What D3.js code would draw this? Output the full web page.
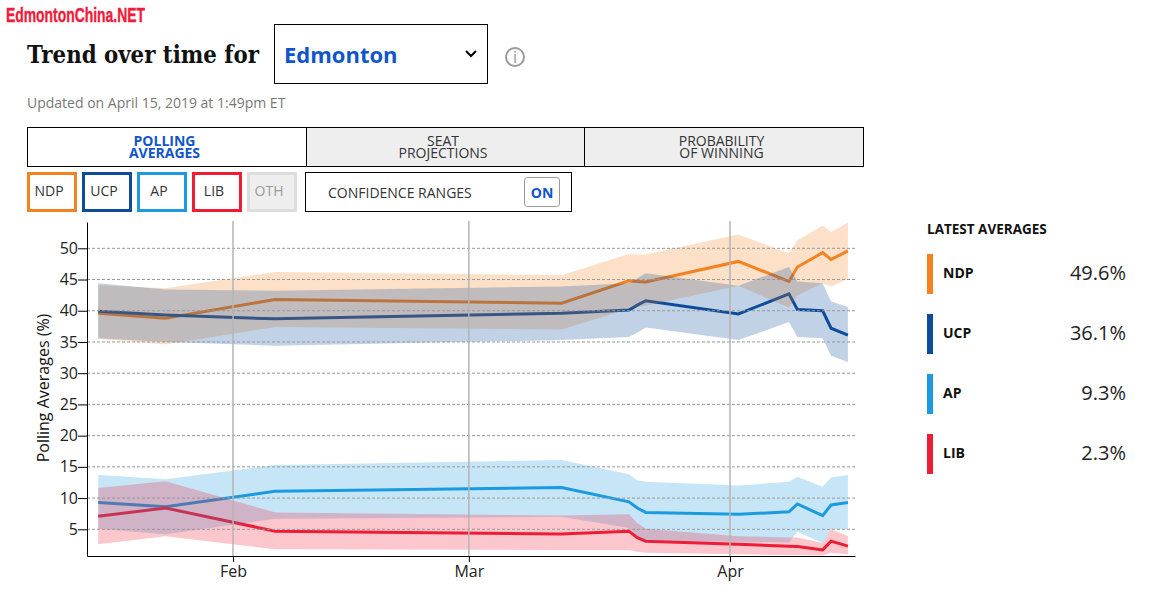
<!DOCTYPE html>
<html>
<head>
<meta charset="utf-8">
<script src="https://d3js.org/d3.v7.min.js"></script>
<style>
    body { margin: 0; background: #fff; }
    svg { display: block; font-family: "Open Sans", sans-serif; }
    .y-axis .domain, .y-axis .tick line, .x-axis .domain { stroke: #000; }
    .tick text { font-family: "Open Sans", sans-serif; font-size: 16px; fill: #222; }
</style>
</head>
<body>
<div id="chart"></div>
<script>
// Values
const dates = ["2019-01-16", "2019-01-24", "2019-02-06", "2019-03-12", "2019-03-20", "2019-03-21", "2019-03-22",
    "2019-04-02", "2019-04-08", "2019-04-09", "2019-04-12", "2019-04-13", "2019-04-15"];

const ndp     = [39.6, 38.8, 41.8, 41.2, 44.8, 44.7, 44.6, 47.9, 44.7, 47.0, 49.3, 48.2, 49.6];
const ndpHigh = [44.1, 43.6, 46.2, 45.7, 49.1, 49.0, 49.0, 52.2, 49.2, 51.3, 53.6, 52.6, 54.1];
const ndpLow  = [35.5, 34.6, 37.4, 37.0, 40.3, 40.6, 40.8, 44.0, 40.5, 42.5, 44.4, 43.9, 45.1];

const ucp     = [39.9, 39.3, 38.7, 39.6, 40.1, 40.9, 41.6, 39.5, 42.7, 40.2, 40.0, 37.2, 36.1];
const ucpHigh = [44.4, 43.4, 43.2, 43.9, 44.4, 45.2, 46.0, 44.0, 47.0, 44.7, 44.4, 41.5, 40.6];
const ucpLow  = [35.6, 35.0, 34.4, 35.3, 35.8, 36.5, 37.3, 35.3, 38.2, 35.8, 35.6, 32.8, 31.8];

const ap     = [9.3, 8.6, 11.1, 11.7, 9.4, 8.4, 7.7, 7.4, 7.8, 9.05, 7.2, 8.9, 9.3];
const apHigh = [13.7, 13.0, 15.3, 16.1, 13.8, 12.8, 12.6, 12.0, 12.6, 13.4, 11.8, 13.3, 13.7];
const apLow  = [5.1, 4.2, 6.7, 7.0, 5.2, 3.8, 3.2, 3.0, 2.9, 4.6, 2.8, 5.0, 5.0];

const lib     = [7.1, 8.4, 4.7, 4.25, 4.7, 3.65, 3.1, 2.6, 2.3, 2.25, 1.7, 3.1, 2.3];
const libHigh = [11.6, 12.7, 7.7, 7.2, 7.4, 6.0, 5.1, 3.9, 3.7, 3.7, 2.8, 5.0, 3.9];
const libLow  = [2.6, 3.9, 1.8, 1.7, 1.7, 1.4, 1.25, 1.0, 0.85, 0.85, 0.8, 1.25, 1.0];

const yTicks = [5, 10, 15, 20, 25, 30, 35, 40, 45, 50];
const monthTicks = ["2019-02-01", "2019-03-01", "2019-04-01"];

const parties = ["NDP", "UCP", "AP", "LIB"];
const partyColors = ["#f58220", "#0d4c9b", "#1b9ae0", "#ee1c35"];
const latest = ["49.6%", "36.1%", "9.3%", "2.3%"];

const parseDate = d3.utcParse("%Y-%m-%d");
const series = [
    { mid: ndp, high: ndpHigh, low: ndpLow },
    { mid: ucp, high: ucpHigh, low: ucpLow },
    { mid: ap, high: apHigh, low: apLow },
    { mid: lib, high: libHigh, low: libLow }
];

const svg = d3.select("#chart").append("svg")
    .attr("width", 1175)
    .attr("height", 603);

const blue = "#1155cc";

// Header
svg.append("text")
    .attr("x", 6).attr("y", 22)
    .attr("textLength", 139).attr("lengthAdjust", "spacingAndGlyphs")
    .style("font-family", "'Liberation Sans Narrow', 'Liberation Sans'")
    .style("font-weight", "bold").style("font-size", "21px").style("fill", "#ee1c3c")
    .style("stroke", "#ee1c3c").style("stroke-width", 0.4)
    .text("EdmontonChina.NET");

svg.append("text")
    .attr("x", 27).attr("y", 63)
    .attr("textLength", 232).attr("lengthAdjust", "spacingAndGlyphs")
    .style("font-family", "'DejaVu Serif', serif")
    .style("font-weight", "bold").style("font-size", "24px").style("fill", "#111")
    .text("Trend over time for");

svg.append("rect")
    .attr("x", 274.5).attr("y", 24.5).attr("width", 213).attr("height", 59)
    .attr("fill", "#fff").attr("stroke", "#000");

svg.append("text")
    .attr("x", 284).attr("y", 63)
    .style("font-weight", 700).style("font-size", "22px").style("fill", blue)
    .text("Edmonton");

svg.append("path")
    .attr("d", "M466,51 L471,56 L476,51")
    .attr("fill", "none").attr("stroke", "#000").attr("stroke-width", 2);

svg.append("circle")
    .attr("cx", 515).attr("cy", 57).attr("r", 9)
    .attr("fill", "none").attr("stroke", "#999").attr("stroke-width", 2);

svg.append("text")
    .attr("x", 515).attr("y", 63).attr("text-anchor", "middle")
    .style("font-size", "16px").style("fill", "#999")
    .text("i");

svg.append("text")
    .attr("x", 27).attr("y", 108)
    .style("font-size", "14px").style("fill", "#777")
    .text("Updated on April 15, 2019 at 1:49pm ET");

// Tabs
const tabs = [
    { x: 27, w: 279, lines: ["POLLING", "AVERAGES"], on: true },
    { x: 306, w: 278, lines: ["SEAT", "PROJECTIONS"], on: false },
    { x: 584, w: 279, lines: ["PROBABILITY", "OF WINNING"], on: false }
];

tabs.forEach(t => {
    svg.append("rect")
        .attr("x", t.x + 0.5).attr("y", 127.5).attr("width", t.w).attr("height", 39)
        .attr("fill", t.on ? "#fff" : "#eee").attr("stroke", "#000");
    t.lines.forEach((line, i) => {
        svg.append("text")
            .attr("x", t.x + t.w / 2 - 2).attr("y", 146 + i * 12).attr("text-anchor", "middle")
            .style("font-size", "14px")
            .style("font-weight", t.on ? 700 : 400)
            .style("fill", t.on ? blue : "#333")
            .text(line);
    });
});

// Party toggles
parties.concat(["OTH"]).forEach((name, i) => {
    const isOther = name === "OTH";
    svg.append("rect")
        .attr("x", 28.5 + i * 55).attr("y", 173.5).attr("width", 47).attr("height", 37)
        .attr("fill", isOther ? "#eee" : "#fff")
        .attr("stroke", isOther ? "#ddd" : partyColors[i])
        .attr("stroke-width", 3);
    svg.append("text")
        .attr("x", 49 + i * 55).attr("y", 196).attr("text-anchor", "middle")
        .style("font-size", "14px")
        .style("fill", isOther ? "#999" : "#333")
        .text(name);
});

svg.append("rect")
    .attr("x", 305.5).attr("y", 172.5).attr("width", 266).attr("height", 39)
    .attr("fill", "#fff").attr("stroke", "#000");

svg.append("text")
    .attr("x", 328).attr("y", 198)
    .style("font-size", "14px").style("fill", "#333")
    .text("CONFIDENCE RANGES");

svg.append("rect")
    .attr("x", 524.5).attr("y", 177.5).attr("width", 35).attr("height", 29).attr("rx", 3)
    .attr("fill", "#fff").attr("stroke", "#999");

svg.append("text")
    .attr("x", 542).attr("y", 198).attr("text-anchor", "middle")
    .style("font-size", "14px").style("font-weight", 700).style("fill", blue)
    .text("ON");

// Scales
const plotLeft = 87, plotRight = 855, plotTop = 222, plotBottom = 556;

const x = d3.scaleUtc()
    .domain([parseDate(monthTicks[0]), parseDate(monthTicks[2])])
    .range([233, 730]);
x.domain([x.invert(plotLeft), x.invert(plotRight)]).range([plotLeft, plotRight]);

const yRef = d3.scaleLinear().domain([5, 50]).range([529.3, 248.3]);
const y = d3.scaleLinear()
    .domain([yRef.invert(plotBottom), yRef.invert(plotTop)])
    .range([plotBottom, plotTop]);

const parsedDates = dates.map(parseDate);
const index = d3.range(dates.length);

// Lines go under the bands, so a line only stays pure inside its own band
series.forEach((s, i) => {
    const line = d3.line()
        .x(k => x(parsedDates[k]))
        .y(k => y(s.mid[k]));
    svg.append("path")
        .attr("class", "line")
        .attr("d", line(index))
        .attr("fill", "none")
        .attr("stroke", partyColors[i])
        .attr("stroke-width", 3);
});

series.forEach((s, i) => {
    const area = d3.area()
        .x(k => x(parsedDates[k]))
        .y0(k => y(s.low[k]))
        .y1(k => y(s.high[k]));
    svg.append("path")
        .attr("class", "band")
        .attr("d", area(index))
        .attr("fill", partyColors[i])
        .attr("fill-opacity", 0.25);
});

// Gridlines
svg.selectAll("line.h-grid")
    .data(yTicks)
    .enter()
    .append("line")
    .attr("class", "h-grid")
    .attr("x1", plotLeft).attr("x2", plotRight)
    .attr("y1", d => y(d)).attr("y2", d => y(d))
    .style("stroke", "#999")
    .style("stroke-dasharray", "3,2");

svg.selectAll("line.v-grid")
    .data(monthTicks)
    .enter()
    .append("line")
    .attr("class", "v-grid")
    .attr("x1", d => x(parseDate(d))).attr("x2", d => x(parseDate(d)))
    .attr("y1", plotTop - 1).attr("y2", plotBottom)
    .style("stroke", "#b4b4b4")
    .style("stroke-width", 1.5);

// Axes
svg.append("g")
    .attr("class", "y-axis")
    .attr("transform", `translate(${plotLeft},0)`)
    .call(d3.axisLeft(y).tickValues(yTicks).tickSize(9).tickSizeOuter(0).tickPadding(0));

svg.append("g")
    .attr("class", "x-axis")
    .attr("transform", `translate(0,${plotBottom})`)
    .call(d3.axisBottom(x)
        .tickValues(monthTicks.map(parseDate))
        .tickFormat(d3.utcFormat("%b"))
        .tickSize(6).tickSizeOuter(0).tickPadding(4));

svg.append("text")
    .attr("transform", "translate(49,388) rotate(-90)")
    .attr("text-anchor", "middle")
    .style("font-size", "16px").style("fill", "#111")
    .text("Polling Averages (%)");

// Latest averages
svg.append("text")
    .attr("x", 927).attr("y", 234)
    .style("font-size", "13.5px").style("font-weight", 700).style("fill", "#111")
    .text("LATEST AVERAGES");

parties.forEach((name, i) => {
    const top = 254 + i * 60;
    svg.append("rect")
        .attr("x", 927).attr("y", top).attr("width", 6).attr("height", 40)
        .attr("fill", partyColors[i]);
    svg.append("text")
        .attr("x", 943).attr("y", top + 24)
        .style("font-size", "14px").style("font-weight", 700).style("fill", "#111")
        .text(name);
    svg.append("text")
        .attr("x", 1126).attr("y", top + 26).attr("text-anchor", "end")
        .style("font-size", "20px").style("fill", "#222")
        .text(latest[i]);
});
</script>
</body>
</html>
